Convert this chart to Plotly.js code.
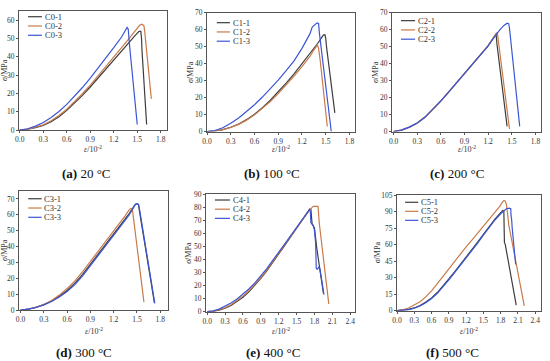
<!DOCTYPE html>
<html><head><meta charset="utf-8">
<script src="https://cdn.plot.ly/plotly-3.0.1.min.js"></script>
<style>html,body{margin:0;padding:0;background:#fff}</style>
</head><body><div id="chart" style="width:550px;height:361px"></div>
<script>
// ---------- DATA ----------
const seriesNames = [
  ['C0-1','C0-2','C0-3'], ['C1-1','C1-2','C1-3'], ['C2-1','C2-2','C2-3'],
  ['C3-1','C3-2','C3-3'], ['C4-1','C4-2','C4-3'], ['C5-1','C5-2','C5-3']
];
const captionTags = ['(a)','(b)','(c)','(d)','(e)','(f)'];
const captionTemps = ['20 °C','100 °C','200 °C','300 °C','400 °C','500 °C'];
const xTitle = '<i>ε</i>/10<sup>-2</sup>';
const yTitle = '<i>σ</i>/MPa';
const xTickVals6 = [0,0.3,0.6,0.9,1.2,1.5,1.8];
const xTickVals8 = [0,0.3,0.6,0.9,1.2,1.5,1.8,2.1,2.4];

// (a) 20 °C
const C0_1_x = [0,0.1,0.2,0.3,0.4,0.5,0.6,0.7,0.8,0.9,1.0,1.1,1.2,1.3,1.4,1.48,1.52,1.545,1.555,1.56,1.62];
const C0_1_y = [0,0.4,1.3,2.5,4.5,7.3,10.7,14.6,18.9,23.5,28.5,33.5,38.5,43.3,48,52,53.8,54,50,44,3];
const C0_2_x = [0,0.1,0.2,0.3,0.4,0.5,0.6,0.7,0.8,0.9,1.0,1.1,1.2,1.3,1.4,1.48,1.53,1.56,1.585,1.595,1.68];
const C0_2_y = [0,0.5,1.5,2.8,5,7.9,11.4,15.4,19.8,24.5,29.5,34.6,39.8,45,50.2,54.5,57.2,57.8,57,54,17];
const C0_3_x = [0,0.1,0.2,0.3,0.4,0.5,0.6,0.7,0.8,0.9,1.0,1.1,1.2,1.3,1.35,1.37,1.385,1.40,1.5];
const C0_3_y = [0,0.7,2.1,4.1,6.8,10.1,14,18.4,23.2,28.4,33.8,39.4,45,50.8,54.5,56,55,47,3];
// (b) 100 °C
const C1_1_x = [0,0.1,0.2,0.3,0.4,0.5,0.6,0.7,0.8,0.9,1.0,1.1,1.2,1.3,1.4,1.45,1.47,1.49,1.5,1.51,1.615];
const C1_1_y = [0,0.3,1.1,2.5,4.4,7,10.2,14,18.4,23.3,28.5,34,39.8,45.8,52,55.5,56.8,57,55,50,11];
const C1_2_x = [0,0.1,0.2,0.3,0.4,0.5,0.6,0.7,0.8,0.9,1.0,1.1,1.2,1.3,1.35,1.38,1.395,1.41,1.43,1.52];
const C1_2_y = [0,0.3,1.1,2.4,4.2,6.7,9.8,13.5,17.7,22.3,27.3,32.6,38.2,44.2,48,50.5,51,49,42,3];
const C1_3_x = [0,0.1,0.2,0.3,0.4,0.5,0.6,0.7,0.8,0.9,1.0,1.1,1.2,1.3,1.33,1.36,1.39,1.41,1.42,1.57];
const C1_3_y = [0,0.6,2.2,4.8,8,11.7,15.8,20.3,25.2,30.3,35.8,41.6,49,57.5,61.5,62.8,64,63.5,58,0];
// (c) 200 °C
const C2_1_x = [0,0.1,0.2,0.3,0.4,0.5,0.6,0.7,0.8,0.9,1.0,1.1,1.2,1.25,1.29,1.3,1.305,1.31,1.44];
const C2_1_y = [0,0.8,2.6,5,8.5,13,18,23.3,28.7,34,39.5,45,50.5,54,57,57.5,55,52,3];
const C2_2_x = [0,0.1,0.2,0.3,0.4,0.5,0.6,0.7,0.8,0.9,1.0,1.1,1.2,1.25,1.29,1.31,1.32,1.33,1.47];
const C2_2_y = [0,0.8,2.5,4.9,8.4,12.9,17.9,23.2,28.6,34,39.6,45.2,50.7,54.2,57.5,58.3,57,53,1.5];
const C2_3_x = [0,0.1,0.2,0.3,0.4,0.5,0.6,0.7,0.8,0.9,1.0,1.1,1.2,1.25,1.3,1.35,1.4,1.44,1.46,1.47,1.6];
const C2_3_y = [0,0.8,2.6,5,8.5,13,18,23.3,28.7,34,39.5,45,50.4,53.8,57,60,62.5,63.8,63.5,61,3];
// (d) 300 °C
const C3_1_x = [0,0.1,0.2,0.3,0.4,0.5,0.6,0.7,0.8,0.9,1.0,1.1,1.2,1.3,1.4,1.45,1.48,1.5,1.52,1.53,1.725];
const C3_1_y = [0,0.5,1.7,3.4,5.7,8.7,12.3,16.9,22.5,28.8,35,41.5,48,54.5,60.8,64.5,66.7,67,66.3,63,4.5];
const C3_2_x = [0,0.1,0.2,0.3,0.4,0.5,0.6,0.7,0.8,0.9,1.0,1.1,1.2,1.3,1.35,1.39,1.42,1.44,1.45,1.59];
const C3_2_y = [0,0.6,1.8,3.5,6,9.4,13.5,18.3,24.2,30.5,36.8,43,49.5,56,59.5,62.5,64,63.5,60,5];
const C3_3_x = [0,0.1,0.2,0.3,0.4,0.5,0.6,0.7,0.8,0.9,1.0,1.1,1.2,1.3,1.4,1.45,1.48,1.5,1.52,1.535,1.73];
const C3_3_y = [0,0.5,1.6,3.2,5.4,8.2,11.6,16,21.5,27.8,34,40.5,47,53.5,60,64,66.5,67,66.5,63,4.2];
// (e) 400 °C
const C4_1_x = [0,0.1,0.2,0.3,0.4,0.5,0.6,0.7,0.8,0.9,1.0,1.1,1.2,1.3,1.4,1.5,1.6,1.68,1.72,1.74,1.75,1.76,1.8,1.84,1.95];
const C4_1_y = [0,0.3,1.2,2.6,4.8,7.6,11,15.2,20,25.4,31.3,37.5,44,50.6,57.2,63.8,70.4,75.8,78.5,78.2,74,67,64,48,14];
const C4_2_x = [0,0.1,0.2,0.3,0.4,0.5,0.6,0.7,0.8,0.9,1.0,1.1,1.2,1.3,1.4,1.5,1.6,1.7,1.76,1.78,1.86,1.865,1.87,1.88,2.04];
const C4_2_y = [0,0.4,1.4,3,5.3,8.3,11.9,16,20.8,26,31.8,38,44.5,51,57.5,64,70.5,76.5,79.8,80.5,80.5,77,69,68,6];
const C4_3_x = [0,0.1,0.2,0.3,0.4,0.5,0.6,0.7,0.8,0.9,1.0,1.1,1.2,1.3,1.4,1.5,1.6,1.68,1.72,1.73,1.74,1.78,1.8,1.82,1.835,1.83,1.85,1.87,1.89,1.96];
const C4_3_y = [0,0.6,2,4,6.6,9.7,13.3,17.4,22,27.2,33,39.2,45.6,52,58.5,65,71.5,76.5,78.3,77,68,66,62,52,36,33,32.5,34,33,13];
// (f) 500 °C
const C5_1_x = [0,0.1,0.2,0.3,0.4,0.5,0.6,0.7,0.8,0.9,1.0,1.1,1.2,1.3,1.4,1.5,1.6,1.7,1.8,1.84,1.855,1.86,1.865,1.88,2.07];
const C5_1_y = [0,0.4,1.2,2.5,4.7,7.8,11.6,16.5,22.3,28.8,35.3,41.8,48.4,55.2,62.2,69.4,76.4,83.2,89,91,90,80,62,60,5];
const C5_2_x = [0,0.1,0.2,0.3,0.4,0.5,0.6,0.7,0.8,0.9,1.0,1.1,1.2,1.3,1.4,1.5,1.6,1.7,1.78,1.83,1.86,1.88,1.9,1.92,1.94,2.21];
const C5_2_y = [0,0.8,2.5,5,8.2,12.5,18,24.5,31.3,38.3,45,51.5,58,64,70.2,76.3,82.5,88.7,94.5,98.5,100,99.5,96,88,78,4.3];
const C5_3_x = [0,0.1,0.2,0.3,0.4,0.5,0.6,0.7,0.8,0.9,1.0,1.1,1.2,1.3,1.4,1.5,1.6,1.7,1.8,1.86,1.9,1.95,1.975,1.98,1.99,2.0,2.03,2.06];
const C5_3_y = [0,0.3,1,2.2,4.3,7.3,11,15.8,21.5,28,34.5,41,47.5,54.3,61.3,68.5,75.5,82.3,88,91,92.5,93,92.5,86,83,75,55,42];

const panelX = [[C0_1_x,C0_2_x,C0_3_x],[C1_1_x,C1_2_x,C1_3_x],[C2_1_x,C2_2_x,C2_3_x],
                [C3_1_x,C3_2_x,C3_3_x],[C4_1_x,C4_2_x,C4_3_x],[C5_1_x,C5_2_x,C5_3_x]];
const panelY = [[C0_1_y,C0_2_y,C0_3_y],[C1_1_y,C1_2_y,C1_3_y],[C2_1_y,C2_2_y,C2_3_y],
                [C3_1_y,C3_2_y,C3_3_y],[C4_1_y,C4_2_y,C4_3_y],[C5_1_y,C5_2_y,C5_3_y]];

// ---------- STYLE / LAYOUT ----------
const colors = ['#3d3d3d','#c97a4a','#3b55d6'];
const W = 550, H = 361;
// pixel boxes [left, right, top, bottom]
const boxes = [[19,167,11,130],[207,355,12.7,131.5],[392,541,12.7,131.5],
               [19,168,191,310],[206,355,194,311.7],[397,541,195,310.7]];
const xRanges = [[-0.01,1.88],[0,1.87],[-0.02,1.87],[-0.02,1.9],[-0.02,2.48],[0,2.5]];
const yRanges = [[0,65],[0,70],[0,70],[0,75],[0,90],[0,105]];
const yDticks = [10,10,10,10,10,15];
const legX = [[0.061,0.155],[0.066,0.155],[0.06,0.155],[0.062,0.152],[0.06,0.161],[0.056,0.148]];
const legTop = [0.952,0.916,0.933,0.935,0.949,0.937];
const legStep = 0.078;
const capX = [86,272,457,83.5,273,452.5];
const capY = [173,173,173,352.7,352.7,352.7];
const yTitleX = [4.5,190,375,4.5,189,377.5];
const xTitleY = [149,149,149,331,331,331];

const font = 'Liberation Serif';
const traces = [];
const layout = {
  width: W, height: H, margin:{l:0,r:0,t:0,b:0},
  paper_bgcolor:'#fff', plot_bgcolor:'#fff', showlegend:false,
  font:{family:font, size:8, color:'#333'},
  shapes:[], annotations:[]
};
for (let p=0;p<6;p++){
  const s = p===0 ? '' : String(p+1);
  const [l,r,t,b] = boxes[p];
  for (let k=0;k<3;k++){
    const ly = legTop[p] - k*legStep;
    traces.push({x:panelX[p][k], y:panelY[p][k], type:'scatter', mode:'lines',
      name:seriesNames[p][k], xaxis:'x'+s, yaxis:'y'+s,
      line:{color:colors[k], width:1.2}, hoverinfo:'skip'});
    layout.shapes.push({type:'line', xref:'x'+s+' domain', yref:'y'+s+' domain',
      x0:legX[p][0], x1:legX[p][1], y0:ly, y1:ly,
      line:{color:colors[k], width:1.2}});
    layout.annotations.push({xref:'x'+s+' domain', yref:'y'+s+' domain',
      x:legX[p][1]+0.012, y:ly, xanchor:'left', yanchor:'middle', borderpad:0,
      text:seriesNames[p][k], showarrow:false, font:{family:font,size:8.5,color:'#333'}});
  }
  const ticks = xRanges[p][1] > 2 ? xTickVals8 : xTickVals6;
  layout['xaxis'+s] = {
    domain:[l/W, r/W], anchor:'y'+s, range:xRanges[p],
    tickvals:ticks, ticktext:ticks.map(v=>v.toFixed(1)),
    showgrid:false, zeroline:false, showline:true, mirror:true,
    linecolor:'#555', linewidth:1, ticks:'outside', ticklen:2, tickcolor:'#555',
    tickfont:{family:font,size:7.5,color:'#333'}
  };
  layout['yaxis'+s] = {
    domain:[1-b/H, 1-t/H], anchor:'x'+s, range:yRanges[p], dtick:yDticks[p], tick0:0,
    showgrid:false, zeroline:false, showline:true, mirror:true,
    linecolor:'#555', linewidth:1, ticks:'outside', ticklen:2, tickcolor:'#555',
    tickfont:{family:font,size:7.5,color:'#333'}
  };
  // axis titles
  layout.annotations.push({xref:'paper', yref:'paper', x:yTitleX[p]/W, y:1-((t+b)/2)/H,
    xanchor:'center', yanchor:'middle', textangle:-90, showarrow:false, borderpad:0,
    text:yTitle, font:{family:font,size:8,color:'#333'}});
  layout.annotations.push({xref:'paper', yref:'paper', x:((l+r)/2)/W, y:1-xTitleY[p]/H,
    xanchor:'center', yanchor:'middle', showarrow:false, borderpad:0,
    text:xTitle, font:{family:font,size:8,color:'#333'}});
  // caption
  layout.annotations.push({xref:'paper', yref:'paper', x:capX[p]/W, y:1-capY[p]/H,
    xanchor:'center', yanchor:'middle', showarrow:false,
    text:'<b>'+captionTags[p]+'</b> '+captionTemps[p],
    font:{family:font, size:13, color:'#111'}});
}
Plotly.newPlot('chart', traces, layout, {staticPlot:true, displayModeBar:false});
</script></body></html>
